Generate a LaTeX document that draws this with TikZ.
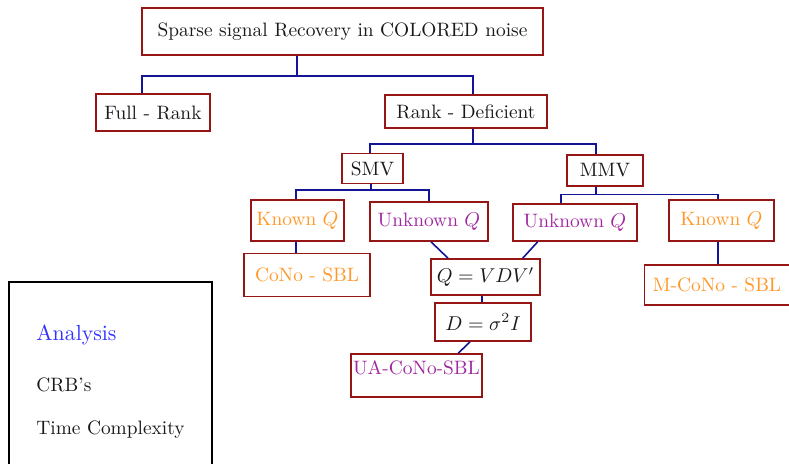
\documentclass[tikz,border=0pt]{standalone}
\usepackage{amsmath}
\definecolor{boxred}{RGB}{150,22,22}
\definecolor{linkblue}{RGB}{20,20,150}
\definecolor{txtorange}{RGB}{255,152,40}
\definecolor{txtpurple}{RGB}{160,40,160}
\definecolor{txtblue}{RGB}{50,50,255}
\tikzset{
  bx/.style={draw=boxred, line width=0.8pt, inner sep=0pt, text=black!90},
  lk/.style={draw=linkblue, line width=0.8pt},
  org/.style={text=txtorange},
  pur/.style={text=txtpurple},
  sidetxt/.style={anchor=base west, inner sep=0pt, text=black!90},
}
\begin{document}
\begin{tikzpicture}[x=0.5pt,y=-0.5pt]
\fontsize{9.7}{11.6}\selectfont
\useasboundingbox (0,0) rectangle (789,463);
% nodes
\node[bx, minimum width=200.5pt, minimum height=23.5pt] (top) at (342.5,31.5) {Sparse signal Recovery in COLORED noise};
\node[bx, minimum width=57pt, minimum height=18.5pt] (full) at (153,112.5) {Full - Rank};
\node[bx, minimum width=81pt, minimum height=16.5pt] (rdef) at (466,111.5) {Rank - Deficient};
\node[bx, minimum width=30.5pt, minimum height=15pt] (smv) at (372.5,168.5) {SMV};
\node[bx, minimum width=38pt, minimum height=15.5pt] (mmv) at (605,170.5) {MMV};
\node[bx, org, minimum width=46.5pt, minimum height=20.5pt] (kq1) at (297.5,220.5) {Known $Q$};
\node[bx, pur, minimum width=59pt, minimum height=19.5pt] (uq1) at (429,221.5) {Unknown $Q$};
\node[bx, pur, minimum width=62pt, minimum height=18.5pt] (uq2) at (575,222.5) {Unknown $Q$};
\node[bx, org, minimum width=52.5pt, minimum height=20.5pt] (kq2) at (721.5,220.5) {Known $Q$};
\node[bx, org, minimum width=63pt, minimum height=21.5pt] (cono) at (307,275) {CoNo - SBL};
\node[bx, minimum width=54.5pt, minimum height=18pt] (qb) at (485.5,277) {$Q = VDV'$};
\node[bx, minimum width=48pt, minimum height=19pt] (db) at (483,322) {$D = \sigma^2 I$};
\node[bx, pur, minimum width=65.5pt, minimum height=21.5pt, text depth=8pt] (ua) at (416.5,375.5) {UA-CoNo-SBL};
\node[bx, org, minimum width=72.5pt, minimum height=20pt] (mcono) at (717,285) {M-CoNo - SBL};
% analysis panel
\draw[line width=1.4pt] (9,470) -- (9,282) -- (212,282) -- (212,470);
\node[sidetxt, text=txtblue, font=\fontsize{10.9}{13}\selectfont] (an) at (36,340) {Analysis};
\node[sidetxt] (crb) at (36,391) {CRB's};
\node[sidetxt] (tc) at (36,434) {Time Complexity};
% junction coordinates
\coordinate (t1) at (296.7,76);
\coordinate (b1) at (141.7,76);
\coordinate (b2) at (472.7,76);
\coordinate (r1) at (473,144);
\coordinate (s1) at (370,144);
\coordinate (s2) at (595.7,144);
\coordinate (m1) at (371,190);
\coordinate (m2) at (296,190);
\coordinate (m3) at (429,190);
\coordinate (n1) at (596,194.3);
\coordinate (n2) at (561,194.3);
\coordinate (n3) at (717.7,194.3);
\coordinate (d1) at (431,0);
\coordinate (d2) at (448,0);
\coordinate (d3) at (537.7,0);
\coordinate (d4) at (522.7,0);
\coordinate (v1) at (482,0);
\coordinate (d5) at (470,0);
\coordinate (d6) at (458.3,0);
% connectors
\draw[lk] (t1 |- top.south) -- (t1);
\draw[lk] (b1 |- full.north) -- (b1) -- (b2) -- (b2 |- rdef.north);
\draw[lk] (r1 |- rdef.south) -- (r1);
\draw[lk] (s1 |- smv.north) -- (s1) -- (s2) -- (s2 |- mmv.north);
\draw[lk] (m1 |- smv.south) -- (m1);
\draw[lk] (m2 |- kq1.north) -- (m2) -- (m3) -- (m3 |- uq1.north);
\draw[lk] (n1 |- mmv.south) -- (n1);
\draw[lk] (n2 |- uq2.north) -- (n2) -- (n3) -- (n3 |- kq2.north);
\draw[lk] (m2 |- kq1.south) -- (m2 |- cono.north);
\draw[lk] (n3 |- kq2.south) -- (n3 |- mcono.north);
\draw[lk] (d1 |- uq1.south) -- (d2 |- qb.north);
\draw[lk] (d3 |- uq2.south) -- (d4 |- qb.north);
\draw[lk] (v1 |- qb.south) -- (v1 |- db.north);
\draw[lk] (d5 |- db.south) -- (d6 |- ua.north);
\end{tikzpicture}
\end{document}
